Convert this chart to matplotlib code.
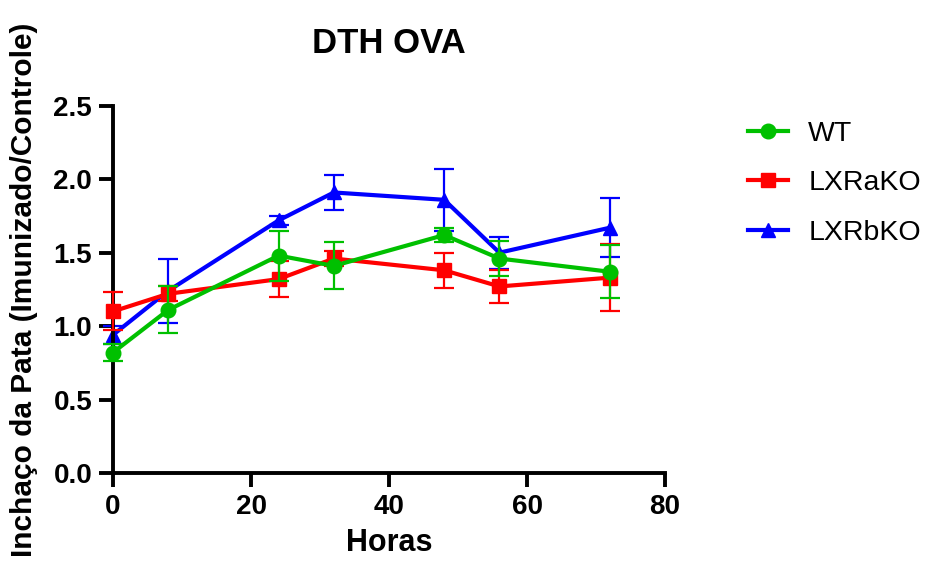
import matplotlib
matplotlib.use("Agg")
import matplotlib.pyplot as plt
from matplotlib.lines import Line2D

plt.rcParams['font.family'] = ['Liberation Sans', 'DejaVu Sans']

hours = [0, 8, 24, 32, 48, 56, 72]
wt = [0.82, 1.11, 1.48, 1.41, 1.62, 1.46, 1.37]
wt_err = [0.06, 0.16, 0.17, 0.16, 0.05, 0.12, 0.18]
lxra = [1.10, 1.22, 1.32, 1.46, 1.38, 1.27, 1.33]
lxra_err = [0.13, 0.05, 0.12, 0.05, 0.12, 0.11, 0.23]
lxrb = [0.94, 1.24, 1.72, 1.91, 1.86, 1.50, 1.67]
lxrb_err = [0.06, 0.22, 0.03, 0.12, 0.21, 0.11, 0.20]

fig = plt.figure(figsize=(9.27, 5.63), dpi=100)
ax = fig.add_axes([0.1219, 0.160, 0.5955, 0.652])

series = [
    ("LXRbKO", lxrb, lxrb_err, "#0000FF", "^", 10, 2),
    ("LXRaKO", lxra, lxra_err, "#FF0000", "s", 9.5, 3),
    ("WT", wt, wt_err, "#00C000", "o", 10.5, 4),
]
handles = {}
for name, vals, err, col, mk, ms, z in series:
    ax.errorbar(hours, vals, yerr=err, color=col, marker=mk, markersize=ms,
                linewidth=3, elinewidth=1.6, capsize=7, capthick=1.6,
                zorder=z, clip_on=False)
    handles[name] = Line2D([], [], color=col, marker=mk, markersize=ms, linewidth=3)

ax.set_xlim(0, 80)
ax.set_ylim(0, 2.5)
ax.set_xticks([0, 20, 40, 60, 80])
ax.set_yticks([0.0, 0.5, 1.0, 1.5, 2.0, 2.5])
ax.set_yticklabels(["0.0", "0.5", "1.0", "1.5", "2.0", "2.5"])
for s in ["top", "right"]:
    ax.spines[s].set_visible(False)
for s in ["left", "bottom"]:
    ax.spines[s].set_linewidth(2.8)
ax.tick_params(direction="out", length=10, width=2.8, labelsize=20, pad=5)
for lab in ax.get_xticklabels() + ax.get_yticklabels():
    lab.set_fontweight("bold")

ax.set_xlabel("Horas", fontsize=22, fontweight="bold", labelpad=6)
ax.set_ylabel("Inchaço da Pata (Imunizado/Controle)", fontsize=21.5, fontweight="bold", labelpad=11)
ax.set_title("DTH OVA", fontsize=25, fontweight="bold", pad=38)

order = ["WT", "LXRaKO", "LXRbKO"]
fig.legend([handles[n] for n in order], order, loc="upper left",
           bbox_to_anchor=(0.795, 0.806), frameon=False, fontsize=20.5,
           handlelength=1.4, labelspacing=0.83, handletextpad=0.7,
           borderaxespad=0)

fig.savefig("out.png", dpi=100)
